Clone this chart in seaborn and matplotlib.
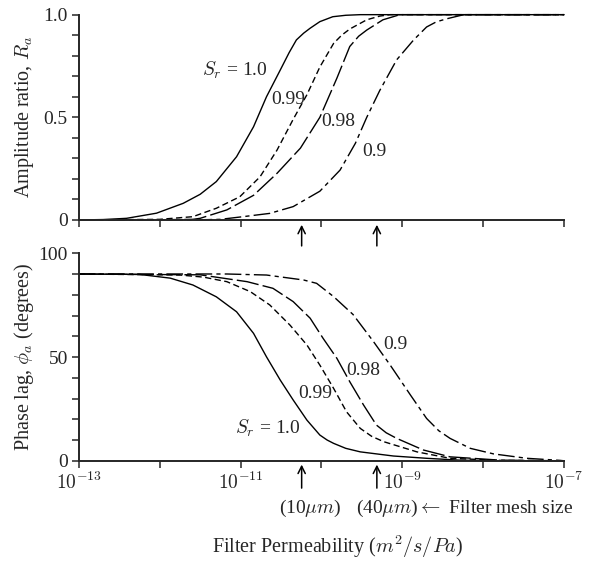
"""Amplitude ratio and phase lag vs. filter permeability for several S_r."""

import numpy as np
import matplotlib

matplotlib.use("Agg")
import matplotlib.pyplot as plt  # noqa: E402
import seaborn as sns  # noqa: E402

# log10 of filter permeability (m^2/s/Pa) and curve values.
SR_LABELS = ["1.0", "0.99", "0.98", "0.9"]

amp_logk_10 = [-13.0, -12.7, -12.41, -12.04, -11.71, -11.50, -11.30, -11.05, -10.84,
               -10.68, -10.51, -10.40, -10.31, -10.22, -10.14, -10.02, -9.86, -9.70,
               -9.52, -7.0]
amp_10 = [0.0, 0.002, 0.008, 0.033, 0.081, 0.125, 0.187, 0.308, 0.454,
          0.60, 0.73, 0.815, 0.877, 0.91, 0.934, 0.966, 0.99, 0.997,
          1.0, 1.0]

amp_logk_099 = [-13.0, -12.0, -11.59, -11.30, -11.01, -10.76, -10.55, -10.35, -10.18,
                -10.02, -9.85, -9.75, -9.65, -9.44, -9.28, -9.15, -7.0]
amp_099 = [0.0, 0.003, 0.016, 0.057, 0.113, 0.21, 0.34, 0.49, 0.61,
           0.745, 0.86, 0.90, 0.93, 0.975, 0.993, 1.0, 1.0]

amp_logk_098 = [-13.0, -12.0, -11.59, -11.50, -11.17, -10.84, -10.55, -10.26, -10.02,
                -9.81, -9.65, -9.54, -9.44, -9.24, -9.03, -7.0]
amp_098 = [0.0, 0.001, 0.003, 0.008, 0.049, 0.12, 0.227, 0.35, 0.50,
           0.69, 0.845, 0.895, 0.925, 0.975, 1.0, 1.0]

amp_logk_09 = [-13.0, -11.6, -11.25, -10.97, -10.64, -10.35, -10.02, -9.77, -9.58,
               -9.44, -9.28, -9.07, -8.86, -8.70, -8.58, -8.45, -8.24, -7.0]
amp_09 = [0.0, 0.0, 0.003, 0.016, 0.032, 0.065, 0.14, 0.243, 0.374,
          0.50, 0.63, 0.78, 0.877, 0.94, 0.965, 0.98, 1.0, 1.0]

ph_logk_10 = [-13.0, -12.25, -11.87, -11.59, -11.30, -11.05, -10.84, -10.68, -10.51,
              -10.35, -10.18, -10.02, -9.93, -9.85, -9.70, -9.52, -9.11, -8.70,
              -8.29, -7.79, -7.0]
ph_10 = [90, 89.8, 88, 84.7, 79, 71.8, 61.4, 50.1, 38.9,
         29.3, 19.6, 12.4, 10.0, 8.4, 6.0, 4.3, 2.3, 1.2,
         0.3, 0, 0]

ph_logk_099 = [-13.0, -11.75, -11.46, -11.17, -10.88, -10.64, -10.39, -10.18, -10.02,
               -9.85, -9.69, -9.52, -9.38, -9.23, -8.82, -8.41, -7.79, -7.0]
ph_099 = [90, 89.5, 88.5, 86.3, 81.5, 75.1, 65.4, 55.8, 46.1,
          34.9, 23.6, 15.6, 11.8, 9.2, 4.3, 1.2, 0.2, 0]

ph_logk_098 = [-13.0, -11.5, -10.92, -10.60, -10.35, -10.14, -9.98, -9.81, -9.65,
               -9.48, -9.32, -9.20, -9.07, -8.74, -8.41, -7.79, -7.0]
ph_098 = [90, 89.6, 86.3, 83.1, 76.7, 68.7, 59, 49.4, 38.1,
          26.9, 17.2, 13.5, 10.8, 5.2, 1.9, 0.3, 0]

ph_logk_09 = [-13.0, -11.17, -10.68, -10.22, -10.06, -9.85, -9.61, -9.36, -9.15,
              -8.90, -8.70, -8.55, -8.41, -8.16, -7.87, -7.46, -7.05, -7.0]
ph_09 = [90, 90, 89.5, 87.1, 85.5, 79.1, 70.5, 57.6, 46.1,
         31.7, 20.4, 14.5, 10.8, 6.0, 3.3, 1.2, 0.2, 0]

AMP = [(amp_logk_10, amp_10), (amp_logk_099, amp_099),
       (amp_logk_098, amp_098), (amp_logk_09, amp_09)]
PHASE = [(ph_logk_10, ph_10), (ph_logk_099, ph_099),
         (ph_logk_098, ph_098), (ph_logk_09, ph_09)]

STYLES = ["-", (0, (4.5, 2.5)), (0, (16, 3)), (0, (12, 3, 3, 3))]

# mesh-size markers (10 um, 40 um)
MESH_LOGK = [-10.245, -9.315]
DECADE_LABELS = ["$10^{-13}$", "", "$10^{-11}$", "", "$10^{-9}$", "", "$10^{-7}$"]


def style_axis(ax):
    ax.set_xscale("log")
    ax.set_xlim(1e-13, 1e-7)
    ax.set_xticks([10.0 ** e for e in range(-13, -6)])
    ax.xaxis.set_minor_locator(matplotlib.ticker.NullLocator())
    ax.tick_params(which="both", direction="out", length=5, width=1.1,
                   labelsize=14, pad=3)
    for s in ["top", "right"]:
        ax.spines[s].set_visible(False)
    for s in ["left", "bottom"]:
        ax.spines[s].set_linewidth(1.4)


def main() -> None:
    sns.set_theme(style="ticks")
    plt.rcParams["font.family"] = "serif"
    plt.rcParams["font.serif"] = ["Liberation Serif", "DejaVu Serif"]
    plt.rcParams["mathtext.fontset"] = "cm"

    fig = plt.figure(figsize=(6.02, 5.64), dpi=100)
    ax1 = fig.add_axes([0.131, 0.610, 0.806, 0.364])
    ax2 = fig.add_axes([0.131, 0.183, 0.806, 0.368])

    for (lk, v), ls in zip(AMP, STYLES):
        sns.lineplot(x=np.power(10.0, lk), y=v, ax=ax1, color="black",
                     lw=1.0, linestyle=ls, clip_on=False, sort=False)
    for (lk, v), ls in zip(PHASE, STYLES):
        sns.lineplot(x=np.power(10.0, lk), y=v, ax=ax2, color="black",
                     lw=1.0, linestyle=ls, clip_on=False, sort=False)

    style_axis(ax1)
    style_axis(ax2)

    ax1.set_ylim(0, 1.0)
    ax1.set_yticks([0, 0.5, 1.0], ["0", "0.5", "1.0"])
    ax1.set_yticks(np.arange(0.1, 1.0, 0.1), minor=True)
    ax1.set_xticklabels([])
    ax1.set_ylabel("Amplitude ratio, $R_a$", fontsize=14.5, labelpad=5)

    ax2.set_ylim(0, 100)
    ax2.set_yticks([0, 50, 100], ["0", "50", "100"])
    ax2.set_yticks(np.arange(10, 100, 10), minor=True)
    ax2.set_xticklabels(DECADE_LABELS)
    ax2.set_ylabel(r"Phase lag, $\phi_a$ (degrees)", fontsize=14.5, labelpad=2)

    # curve labels
    fs = 14
    ax1.text(10 ** -10.66, 0.73, "$S_r$ = 1.0", ha="right", va="center", fontsize=fs)
    ax1.text(10 ** -10.62, 0.585, "0.99", ha="left", va="center", fontsize=fs)
    ax1.text(10 ** -10.0, 0.48, "0.98", ha="left", va="center", fontsize=fs)
    ax1.text(10 ** -9.50, 0.335, "0.9", ha="left", va="center", fontsize=fs)

    ax2.text(10 ** -9.23, 56, "0.9", ha="left", va="center", fontsize=fs)
    ax2.text(10 ** -9.69, 43.5, "0.98", ha="left", va="center", fontsize=fs)
    ax2.text(10 ** -10.29, 32.5, "0.99", ha="left", va="center", fontsize=fs)
    ax2.text(10 ** -10.26, 15.5, "$S_r$ = 1.0", ha="right", va="center", fontsize=fs)

    # filter mesh size arrows
    arrow = dict(arrowstyle="->", lw=1.1, color="black", mutation_scale=13)
    for lk in MESH_LOGK:
        ax1.annotate("", xy=(10 ** lk, -0.01), xytext=(10 ** lk, -0.14),
                     xycoords=("data", "axes fraction"), arrowprops=arrow)
        ax2.annotate("", xy=(10 ** lk, -0.005), xytext=(10 ** lk, -0.145),
                     xycoords=("data", "axes fraction"), arrowprops=arrow)
    ax2.text(10 ** -10.14, -0.228, r"(10$\mu m$)", ha="center", va="center",
             fontsize=14, transform=ax2.get_xaxis_transform())
    ax2.text(10 ** -9.57, -0.228, r"(40$\mu m$)$\leftarrow$ Filter mesh size",
             ha="left", va="center", fontsize=14,
             transform=ax2.get_xaxis_transform())

    fig.text(0.561, 0.030, "Filter Permeability ($m^2/s/Pa$)", ha="center",
             va="center", fontsize=14.5)

    fig.savefig("out.png", dpi=100)


if __name__ == "__main__":
    main()
